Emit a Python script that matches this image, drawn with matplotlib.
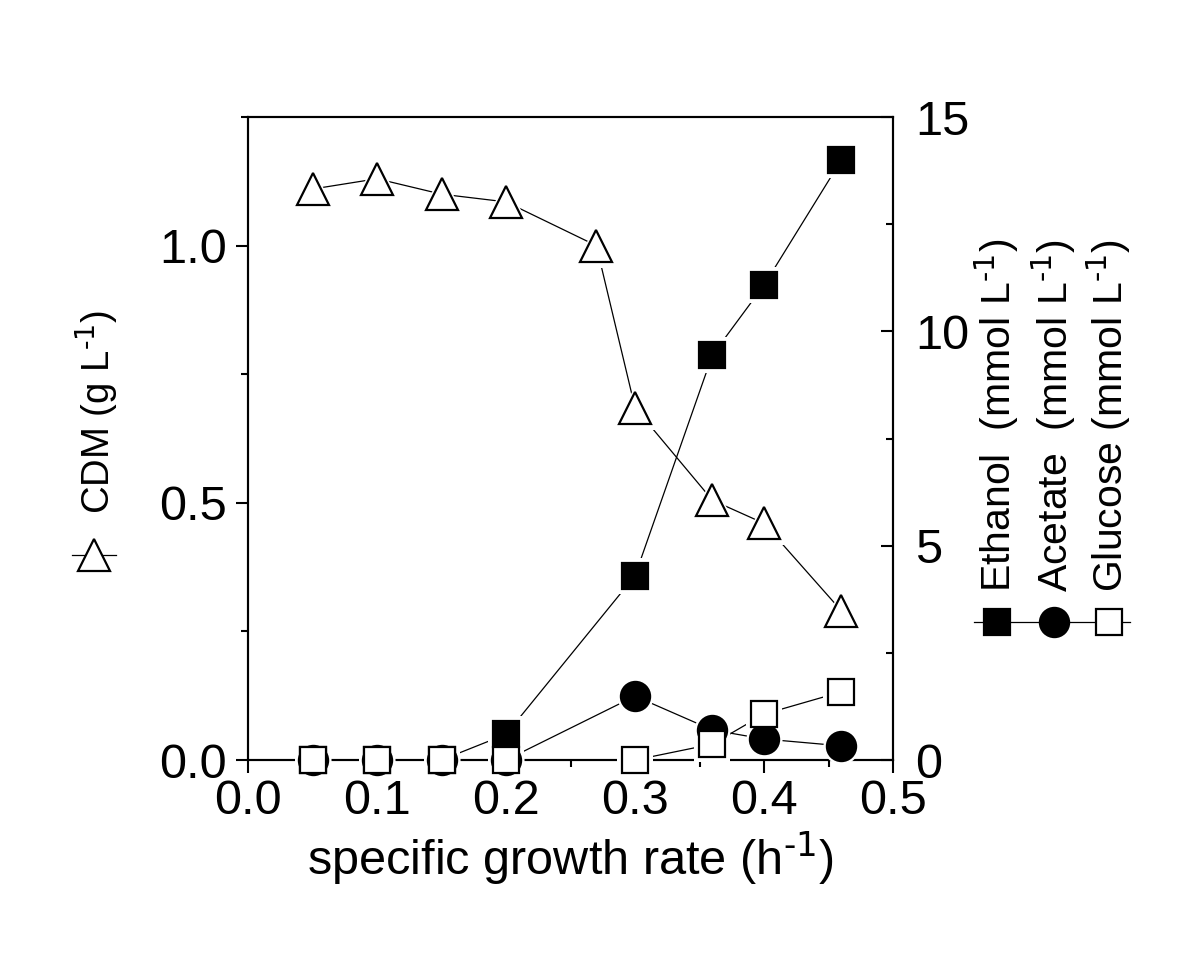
import matplotlib
matplotlib.use('Agg')
import matplotlib.pyplot as plt
from matplotlib.lines import Line2D
from matplotlib.ticker import MultipleLocator, FormatStrFormatter

# data
mu = [0.05, 0.1, 0.15, 0.2, 0.27, 0.3, 0.36, 0.4, 0.46]
cdm = [1.11, 1.13, 1.10, 1.085, 1.0, 0.685, 0.505, 0.46, 0.29]

mu_met = [0.05, 0.1, 0.15, 0.2, 0.3, 0.36, 0.4, 0.46]
ethanol = [0, 0, 0, 0.6, 4.3, 9.45, 11.08, 14.0]
acetate = [0, 0, 0, 0, 1.49, 0.7, 0.49, 0.33]
glucose = [0, 0, 0, 0, 0, 0.37, 1.07, 1.59]

plt.rcParams['font.family'] = ['Liberation Sans', 'DejaVu Sans']
plt.rcParams['mathtext.default'] = 'regular'
plt.rcParams['font.size'] = 28

fig = plt.figure(figsize=(12, 9.76), dpi=100)
ax = fig.add_axes([0.2067, 0.2213, 0.5375, 0.6588])
ax2 = ax.twinx()

lw_line = 0.9
mew = 1.6
sup = r'$^{\text{-1}}$'

# CDM on left axis: line, white halo for gaps, then markers
ax.plot(mu, cdm, '-', color='black', lw=lw_line, zorder=2)
ax.plot(mu, cdm, '^', ms=31, mfc='white', mec='white', mew=0, zorder=3)
ax.plot(mu, cdm, '^', ms=23, mfc='white', mec='black', mew=mew, zorder=4, clip_on=False)

# metabolites on right axis
for ys in (ethanol, acetate, glucose):
    ax2.plot(mu_met, ys, '-', color='black', lw=lw_line, zorder=2, clip_on=False)
for ys, m in ((ethanol, 's'), (acetate, 'o'), (glucose, 's')):
    ax2.plot(mu_met, ys, m, ms=26, mfc='white', mec='white', mew=0, zorder=3, clip_on=False)
ax2.plot(mu_met, ethanol, 's', ms=19, mfc='black', mec='black', mew=mew, zorder=4, clip_on=False)
ax2.plot(mu_met, acetate, 'o', ms=21, mfc='black', mec='black', mew=mew, zorder=5, clip_on=False)
ax2.plot(mu_met, glucose, 's', ms=19, mfc='white', mec='black', mew=mew, zorder=6, clip_on=False)

ax.set_xlim(0, 0.5)
ax.set_ylim(0, 1.25)
ax2.set_ylim(0, 15)

ax.xaxis.set_major_locator(MultipleLocator(0.1))
ax.xaxis.set_minor_locator(MultipleLocator(0.05))
ax.yaxis.set_major_locator(MultipleLocator(0.5))
ax.yaxis.set_minor_locator(MultipleLocator(0.25))
ax2.yaxis.set_major_locator(MultipleLocator(5))
ax2.yaxis.set_minor_locator(MultipleLocator(2.5))

ax.tick_params(axis='x', which='major', direction='out', length=9, width=1.5, pad=5, labelsize=35)
ax.tick_params(axis='x', which='minor', direction='out', length=5, width=1.5)
ax.tick_params(axis='y', which='major', direction='out', length=9, width=1.5, pad=6, labelsize=35)
ax.tick_params(axis='y', which='minor', direction='out', length=5, width=1.5)
ax.tick_params(top=False, right=False, which='both')
ax2.tick_params(axis='y', which='major', direction='in', length=9, width=1.5, pad=16, labelsize=35)
ax2.tick_params(axis='y', which='minor', direction='in', length=5, width=1.5)

ax.yaxis.set_major_formatter(FormatStrFormatter('%.1f'))
ax.xaxis.set_major_formatter(FormatStrFormatter('%.1f'))

for a in (ax, ax2):
    for s in a.spines.values():
        s.set_linewidth(1.5)

ax.set_xlabel('specific growth rate (h' + sup + ')', fontsize=35, labelpad=4)

# left axis label with triangle symbol
fig.text(0.081, 0.473, 'CDM (g L' + sup + ')', rotation=90, ha='center', va='bottom', fontsize=27.5)
fig.add_artist(Line2D([0.060, 0.097], [0.431, 0.431], color='black', lw=0.9,
                      transform=fig.transFigure))
fig.add_artist(Line2D([0.078], [0.431], marker='^', ms=23, mfc='white', mec='black',
                      mew=mew, transform=fig.transFigure))

# right axis labels with symbols
label_x = [0.831, 0.878, 0.924]
labels = ['Ethanol  (mmol L' + sup + ')', 'Acetate  (mmol L' + sup + ')', 'Glucose (mmol L' + sup + ')']
for xx, t in zip(label_x, labels):
    fig.text(xx, 0.393, t, rotation=90, ha='center', va='bottom', fontsize=29.5)
fig.add_artist(Line2D([0.812, 0.942], [0.363, 0.363], color='black', lw=0.9,
                      transform=fig.transFigure))
fig.add_artist(Line2D([label_x[0]], [0.363], marker='s', ms=19, mfc='black', mec='black',
                      mew=mew, transform=fig.transFigure))
fig.add_artist(Line2D([label_x[1]], [0.363], marker='o', ms=21, mfc='black', mec='black',
                      mew=mew, transform=fig.transFigure))
fig.add_artist(Line2D([label_x[2]], [0.363], marker='s', ms=19, mfc='white', mec='black',
                      mew=mew, transform=fig.transFigure))

fig.savefig('out.png', dpi=100)
